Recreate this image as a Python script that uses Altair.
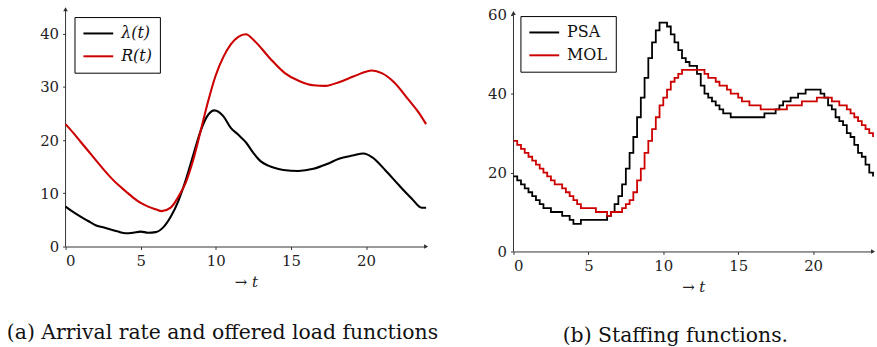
import altair as alt
import pandas as pd

FONT = "DejaVu Serif"
RED = "#cc0000"
AX = "#333333"

# ---- (a) arrival rate and offered load ----
lam_t = [0, 0.5, 1, 1.5, 2, 2.5, 3, 3.5, 4, 4.5, 5, 5.5, 6, 6.5, 7, 7.5, 8, 8.5, 9, 9.5, 9.9,
         10.5, 11, 11.5, 12, 12.5, 13, 13.5, 14, 14.5, 15.5, 16.5, 17.4, 18.2, 19.1, 19.85,
         20.4, 21.3, 22.2, 23.05, 23.7, 24]
lam_v = [7.5, 6.5, 5.6, 4.8, 4.0, 3.6, 3.2, 2.8, 2.5, 2.6, 2.8, 2.6, 2.7, 3.6, 5.6, 8.5, 12.5,
         17.2, 21.8, 24.8, 25.6, 24.5, 22.3, 21.0, 19.6, 17.6, 16.0, 15.2, 14.7, 14.4, 14.2,
         14.6, 15.5, 16.5, 17.1, 17.5, 16.8, 14.3, 11.5, 9.0, 7.3, 7.3]
R_t = [0, 0.5, 1, 1.5, 2, 2.5, 3, 3.5, 4, 4.5, 5, 5.5, 6, 6.4, 7, 7.5, 8, 8.5, 9, 9.5, 10,
       10.5, 11, 11.5, 12, 12.6, 13.6, 14.6, 15.55, 16.5, 17.3, 18.2, 19.2, 20.4, 21.05,
       21.9, 22.8, 23.5, 24]
R_v = [23.0, 21.4, 19.7, 18.0, 16.3, 14.6, 13.0, 11.6, 10.4, 9.2, 8.2, 7.5, 7.0, 6.65, 7.3,
       9.3, 12.0, 16.3, 21.8, 27.4, 32.2, 35.6, 38.0, 39.4, 39.9, 38.6, 35.4, 32.6, 31.1,
       30.3, 30.2, 30.9, 32.0, 33.1, 32.6, 30.8, 27.7, 25.2, 23.0]
left_names = ["λ(t)", "R(t)"]

# ---- (b) staffing functions (quarter-hour steps) ----
step_t = [i / 4 for i in range(97)]
psa = [19, 18, 17, 16, 15, 14, 13, 12, 11, 11, 10, 10, 10, 9, 9, 8, 7, 7, 8, 8, 8, 8, 8, 8,
       8, 9, 10, 12, 14, 17, 21, 25, 29, 34, 39, 44, 49, 53, 56, 58, 58, 57, 55, 53, 51, 49,
       48, 47, 47, 45, 42, 40, 39, 38, 37, 36, 35, 35, 34, 34, 34, 34, 34, 34, 34, 34, 34,
       35, 35, 35, 36, 37, 38, 38, 39, 39, 40, 40, 41, 41, 41, 41, 40, 39, 37, 36, 34, 33,
       32, 30, 29, 27, 25, 24, 22, 20, 19]
mol = [28, 27, 26, 25, 24, 23, 22, 21, 20, 19, 18, 17, 17, 16, 15, 14, 13, 12, 11, 11, 11,
       11, 10, 10, 10, 9, 10, 10, 10, 11, 12, 13, 15, 18, 21, 25, 28, 31, 34, 37, 39, 41,
       43, 44, 45, 46, 46, 46, 46, 46, 46, 45, 44, 44, 43, 42, 42, 41, 40, 40, 39, 38, 38,
       37, 37, 37, 36, 36, 36, 36, 36, 36, 36, 37, 37, 37, 37, 38, 38, 38, 38, 39, 39, 39,
       39, 38, 38, 37, 37, 36, 35, 34, 33, 32, 31, 30, 29]
right_names = ["PSA", "MOL"]

x_ticks = [0, 5, 10, 15, 20]

left_df = pd.concat([
    pd.DataFrame({"t": lam_t, "v": lam_v, "s": left_names[0]}),
    pd.DataFrame({"t": R_t, "v": R_v, "s": left_names[1]}),
])
right_df = pd.concat([
    pd.DataFrame({"t": step_t, "v": psa, "s": right_names[0]}),
    pd.DataFrame({"t": step_t, "v": mol, "s": right_names[1]}),
])


def legend(x, y, italic):
    # stroke symbol drawn from the column's left edge, 4 half-widths long
    kw = dict(orient="none", legendX=x, legendY=y, title=None, strokeColor="black",
              fillColor="white", padding=8, symbolType="M-1,0H3", symbolSize=225,
              symbolStrokeWidth=2, symbolFillColor="transparent",
              labelFont=FONT, labelFontSize=16, labelOffset=22,
              rowPadding=6, labelColor="#111111", cornerRadius=0)
    if italic:
        kw["labelFontStyle"] = "italic"
    return alt.Legend(**kw)


def panel(df, names, ymax, yaxis_top, yticks, width, height, caption, dx, offset,
          leg_xy, italic, step):
    xs = alt.Scale(domain=[0, 24], nice=False, zero=False)
    ys = alt.Scale(domain=[0, ymax], nice=False)
    xax = alt.Axis(values=x_ticks, title="→ t", titleFontStyle="italic", grid=False)
    yax = alt.Axis(values=yticks, title=None, grid=False, domain=False)
    lines = alt.Chart(df).mark_line(
        strokeWidth=2.1 if not step else 1.8,
        interpolate="step-after" if step else "monotone",
    ).encode(
        x=alt.X("t:Q", scale=xs, axis=xax),
        y=alt.Y("v:Q", scale=ys, axis=yax),
        color=alt.Color("s:N", scale=alt.Scale(domain=names, range=["black", RED]),
                        legend=legend(leg_xy[0], leg_xy[1], italic)),
        order=alt.Order("t:Q"),
    )
    yline = alt.Chart(pd.DataFrame({"t": [0], "a": [0], "b": [yaxis_top]})).mark_rule(
        color=AX, strokeWidth=1).encode(x="t:Q", y="a:Q", y2="b:Q")
    arrows = alt.Chart(pd.DataFrame({
        "t": [24, 0], "v": [0, yaxis_top], "shape": ["triangle-right", "triangle-up"]
    })).mark_point(filled=True, color=AX, size=22, opacity=1).encode(
        x="t:Q", y="v:Q", shape=alt.Shape("shape:N", scale=None))
    return alt.layer(yline, lines, arrows).properties(
        width=width, height=height,
        title=alt.TitleParams(text=caption, orient="bottom", anchor="middle", frame="group",
                              dx=dx, offset=offset, fontSize=20.5, font=FONT,
                              fontWeight="normal", color="#111111"),
    )


left = panel(left_df, left_names, 45, 44.6, [0, 10, 20, 30, 40], 363, 241,
             "(a) Arrival rate and offered load functions", -23.5, 34, (9, 10), True, False)
right = panel(right_df, right_names, 61.9, 60.4, [0, 20, 40, 60], 362, 246,
              "(b) Staffing functions.", -18, 32, (7, 9), False, True)

chart = alt.hconcat(left, right, spacing=88, bounds="flush").resolve_scale(
    color="independent", x="independent", y="independent", shape="independent"
).configure(
    padding={"left": 6, "top": 6, "right": 0, "bottom": 0},
    background="white",
).configure_view(stroke=None).configure_axis(
    labelFont=FONT, labelFontSize=15, labelColor="#222222", tickColor=AX, domainColor=AX,
    tickSize=3, labelPadding=4, titleFont=FONT, titleFontSize=15, titleFontWeight="normal",
    titleColor="#222222", titlePadding=6,
)

chart.save("out.html", embed_options={"renderer": "svg", "actions": False})
